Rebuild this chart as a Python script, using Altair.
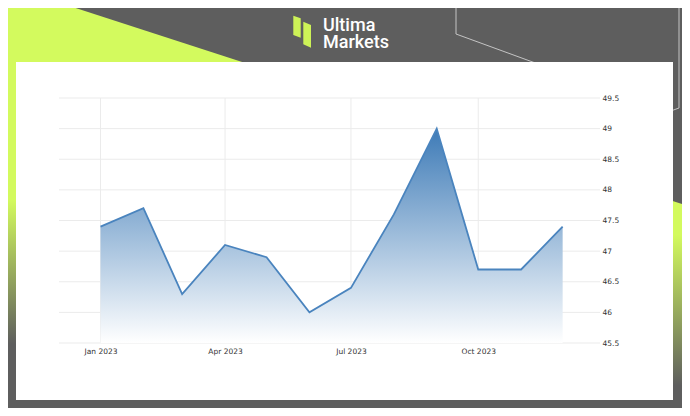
import altair as alt
import pandas as pd

# ---- chart data ----
months = ["2023-01-01", "2023-02-01", "2023-03-01", "2023-04-01", "2023-05-01", "2023-06-01",
          "2023-07-01", "2023-08-01", "2023-09-01", "2023-10-01", "2023-11-01", "2023-12-01"]
values = [47.4, 47.7, 46.3, 47.1, 46.9, 46.0, 46.4, 47.6, 49.0, 46.7, 46.7, 47.4]
y_ticks = [45.5, 46.0, 46.5, 47.0, 47.5, 48.0, 48.5, 49.0, 49.5]
x_tick_months = [1, 4, 7, 10]
x_ticks = ["2023-01-01", "2023-04-01", "2023-07-01", "2023-10-01"]
brand = ["Ultima", "Markets"]

# ---- colours ----
GRAY = "#5e5e5e"
LIME = "#d3fa5e"
ICON = "#cdf257"
LINE = "#4a84be"

# plot-area origin in page pixels (for decorative layers)
OX, OY = 59, 98


def pts(rows):
    return pd.DataFrame([{"x": x - OX, "y": y - OY, "y2": y2 - OY} for x, y, y2 in rows])


data = pd.DataFrame({"date": months, "value": values})

x_scale = alt.Scale(type="utc",
                    domain=[alt.DateTime(year=2022, month=12, date=2, utc=True),
                            alt.DateTime(year=2023, month=12, date=28, utc=True)])
y_scale = alt.Scale(domain=[45.5, 49.5], nice=False, zero=False)

lab = dict(labelFont="DejaVu Sans", labelFontSize=7.5, labelColor="#333333",
           grid=False, domain=False, ticks=False, title=None, zindex=1, labelOverlap=False)
x_axis = alt.Axis(orient="bottom", labelPadding=4,
                  values=[alt.DateTime(year=2023, month=m, date=1, utc=True) for m in x_tick_months],
                  labelExpr="utcFormat(datum.value, '%b %Y')", **lab)
y_axis = alt.Axis(orient="right", labelPadding=2, values=y_ticks, format="~g", **lab)


def lime_grad(stops):
    return alt.Gradient(gradient="linear", x1=0, x2=0, y1=0, y2=1,
                        stops=[alt.GradientStop(offset=o, color=c) for o, c in stops])


def deco_area(df, color):
    return alt.Chart(df).mark_area(color=color).encode(
        x=alt.X("x:Q", scale=None, axis=None),
        y=alt.Y("y:Q", scale=None, axis=None),
        y2="y2:Q")


one = pd.DataFrame({"a": [0]})

# lime shapes of the background
k = 62 / 191
left_lime = deco_area(pts([(-10, 0, 400), (51, 0, 400), (280, (280 - 51) * k, 400)]),
                      lime_grad([(0, LIME), (0.5, LIME), (0.86, GRAY), (1, GRAY)]))
right_lime = deco_area(pts([(650, 201 + (650 - 673) * 0.32, 400), (700, 201 + (700 - 673) * 0.32, 400)]),
                       lime_grad([(0, LIME), (0.2, LIME), (0.93, GRAY), (1, GRAY)]))

line_df = pd.DataFrame([
    {"x": 456 - OX, "y": -5 - OY, "g": "a", "o": 0},
    {"x": 456 - OX, "y": 34 - OY, "g": "a", "o": 1},
    {"x": 560 - OX, "y": 72 - OY, "g": "a", "o": 2},
    {"x": 679 - OX, "y": -5 - OY, "g": "b", "o": 0},
    {"x": 679 - OX, "y": 108 - OY, "g": "b", "o": 1},
    {"x": 668 - OX, "y": 112 - OY, "g": "b", "o": 2},
])
thin_lines = alt.Chart(line_df).mark_line(color="#c4c4c4", strokeWidth=1).encode(
    x=alt.X("x:Q", scale=None, axis=None),
    y=alt.Y("y:Q", scale=None, axis=None),
    detail="g:N", order="o:Q")

panel = alt.Chart(one).mark_rect(color="white").encode(
    x=alt.value(16 - OX), x2=alt.value(673 - OX),
    y=alt.value(62 - OY), y2=alt.value(400 - OY))

icon_l = deco_area(pts([(293.3, 15.7, 35.0), (300.7, 18.3, 37.7)]), ICON)
icon_r = deco_area(pts([(303.3, 21.7, 44.3), (311.0, 25.0, 47.7)]), ICON)

txt = dict(align="left", baseline="alphabetic", font="Roboto", fontSize=18,
           fontWeight=500, color="white")
t1 = alt.Chart(one).mark_text(text=brand[0], **txt).encode(x=alt.value(323 - OX), y=alt.value(31 - OY))
t2 = alt.Chart(one).mark_text(text=brand[1], **txt).encode(x=alt.value(323 - OX), y=alt.value(47.6 - OY))

# grid lines (drawn above the white panel)
hgrid = alt.Chart(pd.DataFrame({"value": y_ticks})).mark_rule(color="#ebebeb", strokeWidth=1).encode(
    y=alt.Y("value:Q", scale=y_scale, axis=y_axis))
vgrid = alt.Chart(pd.DataFrame({"date": x_ticks})).mark_rule(color="#ebebeb", strokeWidth=1).encode(
    x=alt.X("date:T", scale=x_scale, axis=x_axis))

area = alt.Chart(data).mark_area(
    color=alt.Gradient(gradient="linear", x1=0, x2=0, y1=0, y2=1,
                       stops=[alt.GradientStop(offset=0, color="#3e7bb7"),
                              alt.GradientStop(offset=1, color="#ffffff")])
).encode(
    x=alt.X("date:T", scale=x_scale, axis=x_axis),
    y=alt.Y("value:Q", scale=y_scale, axis=y_axis),
    y2=alt.datum(45.5))

line = alt.Chart(data).mark_line(color=LINE, strokeWidth=1.8).encode(
    x=alt.X("date:T", scale=x_scale, axis=x_axis),
    y=alt.Y("value:Q", scale=y_scale, axis=y_axis))

chart = alt.layer(left_lime, right_lime, thin_lines, panel, icon_l, icon_r, t1, t2,
                  hgrid, vgrid, area, line).properties(
    width=541, height=245,
    padding={"left": 51, "top": 90, "right": 82, "bottom": 65},
    autosize=alt.AutoSizeParams(type="none"),
    background=GRAY,
).configure_view(strokeWidth=0)

chart.save("out.html", embed_options={"renderer": "svg", "actions": False})
